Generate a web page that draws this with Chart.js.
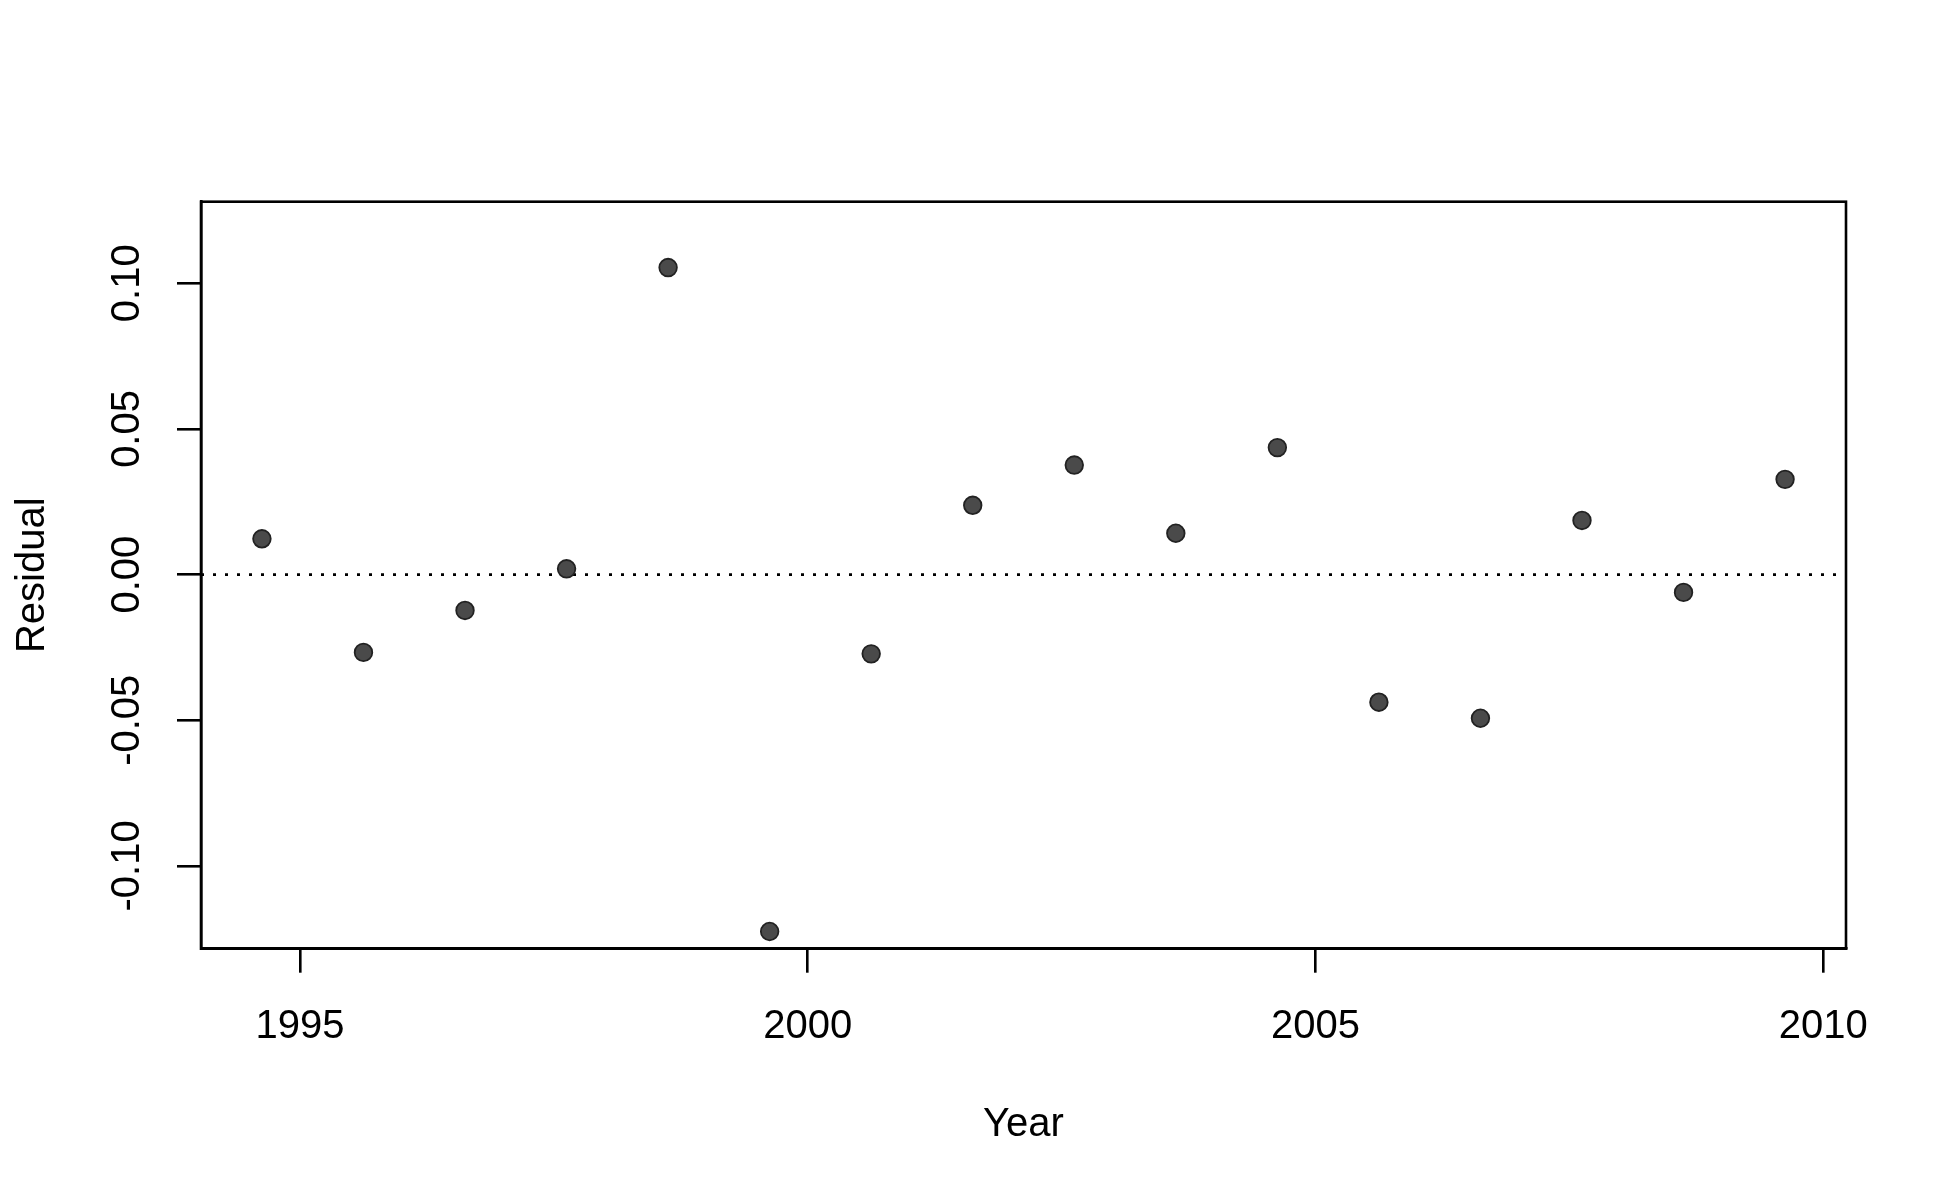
<!DOCTYPE html>
<html>
<head>
<meta charset="utf-8">
<title>Residuals by year</title>
<script src="https://cdn.jsdelivr.net/npm/chart.js@4.4.1/dist/chart.umd.min.js"></script>
<style>
  html, body { margin: 0; padding: 0; background: #fff; }
  canvas { display: block; }
</style>
</head>
<body>
<canvas id="residChart" width="1950" height="1200"></canvas>
<script>
// values
const years = [1994.625, 1995.625, 1996.625, 1997.625, 1998.625, 1999.625, 2000.625, 2001.625,
               2002.625, 2003.625, 2004.625, 2005.625, 2006.625, 2007.625, 2008.625, 2009.625];
const residuals = [0.0123, -0.0267, -0.0123, 0.0020, 0.1054, -0.1225, -0.0272, 0.0238,
                   0.0376, 0.0142, 0.0436, -0.0438, -0.0493, 0.0186, -0.0061, 0.0327];
const xTicks = [1995, 2000, 2005, 2010];
const yTicks = [-0.10, -0.05, 0.00, 0.05, 0.10];
const refLine = 0;

const FONT = "'Liberation Sans', Arial, sans-serif";

// box round the plot + dotted h=0 line (R style)
const frame = {
  id: 'frame',
  beforeDatasetsDraw(chart) {
    const { ctx, chartArea: a, scales } = chart;
    const y0 = scales.y.getPixelForValue(refLine);
    ctx.save();
    ctx.strokeStyle = '#000';
    ctx.lineWidth = 2.6;
    ctx.setLineDash([3, 9]);
    ctx.beginPath();
    ctx.moveTo(a.left, y0);
    ctx.lineTo(a.right, y0);
    ctx.stroke();
    ctx.restore();
  },
  afterDraw(chart) {
    const { ctx, chartArea: a } = chart;
    ctx.save();
    ctx.strokeStyle = '#000';
    ctx.lineWidth = 2.6;
    ctx.strokeRect(a.left, a.top, a.right - a.left, a.bottom - a.top);
    ctx.restore();
  }
};

new Chart(document.getElementById('residChart'), {
  type: 'scatter',
  data: {
    datasets: [{
      data: years.map((x, i) => ({ x: x, y: residuals[i] })),
      pointRadius: 8.8,
      pointHoverRadius: 8.8,
      pointBackgroundColor: '#4a4a4a',
      pointBorderColor: '#222',
      pointBorderWidth: 1.8
    }]
  },
  options: {
    responsive: false,
    devicePixelRatio: 1,
    animation: false,
    layout: { padding: { top: 201.7, right: 104, bottom: 0, left: 0 } },
    plugins: { legend: { display: false }, tooltip: { enabled: false } },
    scales: {
      x: {
        type: 'linear',
        min: 1994.025,
        max: 2010.225,
        afterBuildTicks: s => { s.ticks = xTicks.map(v => ({ value: v })); },
        afterFit: s => { s.height = 251.3; },
        grid: { drawOnChartArea: false, color: '#000', lineWidth: 2.6, tickLength: 24 },
        border: { display: true, color: '#000', width: 2.6 },
        ticks: {
          color: '#000',
          font: { family: FONT, size: 40 },
          padding: 30,
          maxRotation: 0,
          callback: v => String(v)
        },
        title: {
          display: true,
          text: 'Year',
          color: '#000',
          font: { family: FONT, size: 40, lineHeight: 1.2 },
          padding: { top: 0, bottom: 51.5 }
        }
      },
      y: {
        type: 'linear',
        min: -0.1284,
        max: 0.128,
        afterBuildTicks: s => { s.ticks = yTicks.map(v => ({ value: v })); },
        afterFit: s => { s.width = 201; },
        grid: { drawOnChartArea: false, color: '#000', lineWidth: 2.6, tickLength: 24 },
        border: { display: true, color: '#000', width: 2.6 },
        ticks: {
          color: '#000',
          font: { family: FONT, size: 40 },
          padding: 3.5,
          minRotation: 90,
          maxRotation: 90,
          crossAlign: 'center',
          callback: v => v.toFixed(2)
        },
        title: {
          display: true,
          text: 'Residual',
          color: '#000',
          font: { family: FONT, size: 40, lineHeight: 1.2 },
          padding: { top: 9, bottom: 0 }
        }
      }
    }
  },
  plugins: [frame]
});
</script>
</body>
</html>
